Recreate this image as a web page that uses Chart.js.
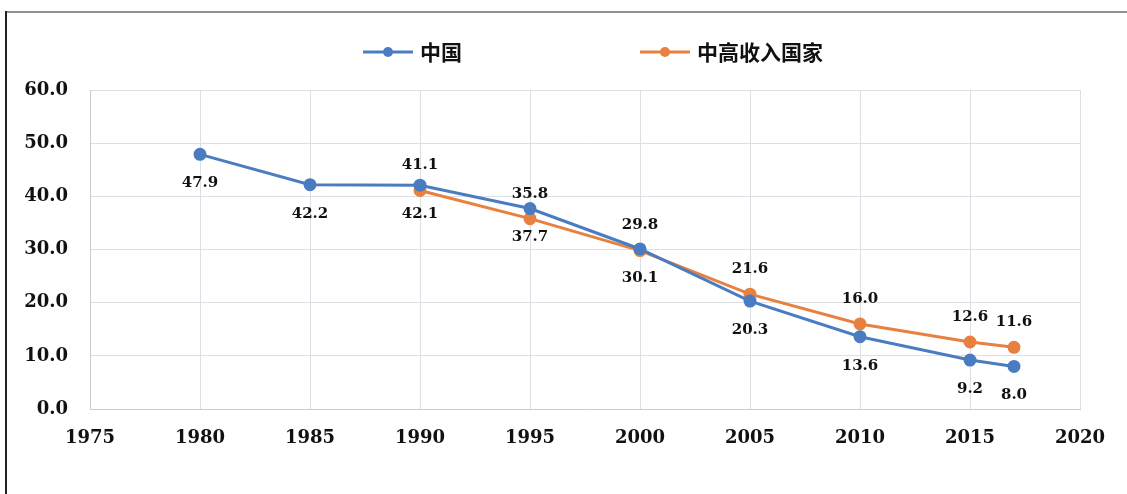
<!DOCTYPE html>
<html>
<head>
<meta charset="utf-8">
<script src="https://cdn.jsdelivr.net/npm/chart.js@4"></script>
<style>
  html, body { margin: 0; padding: 0; background: #fff; }
  #wrap { position: relative; width: 1127px; height: 494px; }
</style>
</head>
<body>
<div id="wrap"><canvas id="povertyChart"></canvas></div>
<script>
// years and values
var chinaYears = [1980, 1985, 1990, 1995, 2000, 2005, 2010, 2015, 2017];
var chinaValues = [47.9, 42.2, 42.1, 37.7, 30.1, 20.3, 13.6, 9.2, 8.0];
var midYears = [1990, 1995, 2000, 2005, 2010, 2015, 2017];
var midValues = [41.1, 35.8, 29.8, 21.6, 16.0, 12.6, 11.6];
var seriesNames = ['中国', '中高收入国家'];

var serif = "'DejaVu Serif', 'Liberation Serif', serif";
var cjk = "'Noto Sans CJK SC', sans-serif";

function toPoints(xs, ys) {
    return xs.map(function (x, i) { return { x: x, y: ys[i] }; });
}

// frame + white background
var framePlugin = {
    id: 'frame',
    beforeDraw: function (chart) {
        var ctx = chart.ctx;
        ctx.save();
        ctx.fillStyle = '#fff';
        ctx.fillRect(0, 0, chart.width, chart.height);
        ctx.fillStyle = '#909090';
        ctx.fillRect(5, 11, chart.width - 5, 2);
        ctx.fillStyle = '#222';
        ctx.fillRect(5, 11, 2, chart.height - 11);
        ctx.restore();
    }
};

// value labels: China under the point, middle income above
var labelPlugin = {
    id: 'valueLabels',
    afterDatasetsDraw: function (chart) {
        var ctx = chart.ctx;
        ctx.save();
        ctx.font = 'bold 15px ' + serif;
        ctx.fillStyle = '#111';
        ctx.textAlign = 'center';
        ctx.textBaseline = 'middle';
        chart.data.datasets.forEach(function (ds, di) {
            var meta = chart.getDatasetMeta(di);
            meta.data.forEach(function (pt, i) {
                var off = di === 0 ? 29 : -25;
                ctx.fillText(ds.data[i].y.toFixed(1), pt.x, pt.y + off);
            });
        });
        ctx.restore();
    }
};

// legend drawn as line with dot, Excel style
var legendPlugin = {
    id: 'lineLegend',
    afterDraw: function (chart) {
        var ctx = chart.ctx;
        var y = 52;
        var starts = [363, 640];
        ctx.save();
        chart.data.datasets.forEach(function (ds, i) {
            var x = starts[i];
            ctx.strokeStyle = ds.borderColor;
            ctx.lineWidth = 3;
            ctx.beginPath();
            ctx.moveTo(x, y);
            ctx.lineTo(x + 50, y);
            ctx.stroke();
            ctx.fillStyle = ds.borderColor;
            ctx.beginPath();
            ctx.arc(x + 25, y, 5, 0, Math.PI * 2);
            ctx.fill();
            ctx.fillStyle = '#111';
            ctx.font = 'bold 21px ' + cjk;
            ctx.textAlign = 'left';
            ctx.textBaseline = 'middle';
            ctx.fillText(ds.label, x + 57, y);
        });
        ctx.restore();
    }
};

var chartCanvas = document.getElementById('povertyChart');

new Chart(chartCanvas, {
    type: 'line',
    data: {
        datasets: [{
            label: seriesNames[0],
            data: toPoints(chinaYears, chinaValues),
            borderColor: '#4a7cc2',
            backgroundColor: '#4a7cc2',
            borderWidth: 3,
            pointRadius: 5,
            tension: 0
        }, {
            label: seriesNames[1],
            data: toPoints(midYears, midValues),
            borderColor: '#e8803f',
            backgroundColor: '#e8803f',
            borderWidth: 3,
            pointRadius: 5,
            tension: 0
        }]
    },
    options: {
        responsive: true,
        maintainAspectRatio: false,
        animation: false,
        layout: {
            padding: { top: 90, right: 47, left: 0, bottom: 0 }
        },
        plugins: {
            legend: { display: false },
            tooltip: { enabled: false }
        },
        scales: {
            x: {
                type: 'linear',
                min: 1975,
                max: 2020,
                ticks: {
                    stepSize: 5,
                    padding: 19,
                    color: '#111',
                    font: { family: serif, size: 18, weight: 'bold' },
                    callback: function (v) { return String(v); }
                },
                grid: { color: '#dcdfe3', drawTicks: false },
                border: { color: '#c8ccd0' },
                afterFit: function (s) { s.height = 85; }
            },
            y: {
                min: 0,
                max: 60,
                ticks: {
                    stepSize: 10,
                    padding: 22,
                    color: '#111',
                    font: { family: serif, size: 18, weight: 'bold' },
                    callback: function (v) { return v.toFixed(1); }
                },
                grid: { color: '#dcdfe3', drawTicks: false },
                border: { color: '#c8ccd0' },
                afterFit: function (s) { s.width = 90; }
            }
        }
    },
    plugins: [framePlugin, labelPlugin, legendPlugin]
});
</script>
</body>
</html>
